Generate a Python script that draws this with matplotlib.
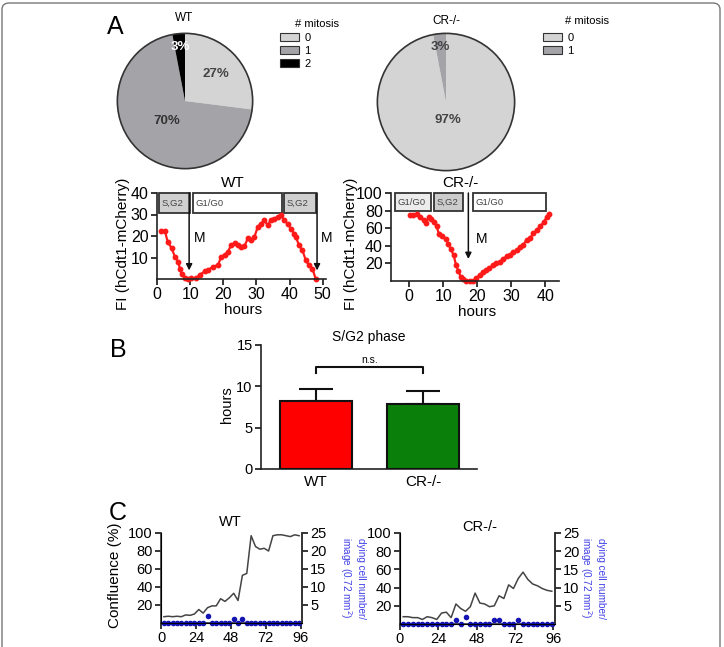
import numpy as np
import matplotlib.pyplot as plt
from matplotlib.patches import Rectangle, Patch, FancyBboxPatch, Circle

plt.rcParams['font.family'] = ['Liberation Sans', 'DejaVu Sans']

W, H = 724, 647

# ---- data ----
mitosis_classes = ['0', '1', '2']
wt_mitosis_pct = [27, 70, 3]
cr_mitosis_pct = [97, 3]
pie_colors = ['#d4d4d4', '#a4a4a8', '#000000']

wt_hours = [1.2, 2.4, 3.2, 4.4, 5.4, 6.4, 6.9, 7.4, 8.4, 9.4, 10.4, 11.9, 12.9, 14.4,
            15.4, 16.9, 18.4, 19.4, 20.4, 21.4, 22.4, 23.4, 24.4, 25.4, 26.4, 27.4,
            28.4, 29.4, 30.4, 31.4, 32.4, 33.4, 34.4, 35.4, 36.4, 37.4, 38.4, 39.4,
            40.4, 41.4, 41.9, 42.9, 43.9, 44.9, 45.9, 46.9, 47.9]
wt_fi = [22.3, 22.3, 17.4, 14.3, 10.4, 8.0, 4.8, 2.5, 0.5, 0.0, 0.3, 0.5, 2.0, 3.5,
         4.2, 5.7, 6.5, 10.4, 11.2, 12.7, 15.8, 16.6, 15.8, 14.7, 15.3, 18.9,
         18.0, 19.6, 24.2, 25.8, 27.3, 25.0, 27.6, 28.1, 28.9, 29.7, 27.3, 25.8,
         23.4, 21.1, 19.5, 15.6, 13.3, 8.7, 6.3, 4.8, 0.0]
wt_phases = ['S,G2', 'G1/G0', 'S,G2']
wt_phase_start = [0.6, 10.8, 38.4]
wt_phase_end = [9.9, 37.8, 48.0]
wt_m_times = [9.7, 48.3]

cr_hours = [0.3, 1.3, 2.3, 3.3, 4.3, 5.0, 5.8, 6.5, 7.3, 8.1, 8.8, 9.8, 10.8, 11.5,
            12.3, 13.1, 13.8, 14.5, 15.1, 15.8, 16.8, 17.8, 18.7, 19.7, 20.7, 21.7,
            22.6, 23.6, 24.6, 25.6, 26.6, 27.6, 28.6, 29.6, 30.6, 31.6, 32.6, 33.5,
            34.5, 35.5, 36.5, 37.5, 38.5, 39.5, 40.5, 41.0]
cr_fi = [75, 75, 76, 73, 69, 66, 73, 71, 67, 62, 53, 51, 48, 42,
         36, 29, 18, 11, 5, 2, 0, 0, 0, 3, 7, 10,
         13, 15, 18, 20, 22, 25, 28, 30, 33, 35, 39, 41,
         47, 49, 54, 58, 62, 67, 73, 76]
cr_phases = ['G1/G0', 'S,G2', 'G1/G0']
cr_phase_start = [-4.1, 7.3, 18.8]
cr_phase_end = [6.5, 15.9, 40.3]
cr_m_times = [17.4]

genotypes = ['WT', 'CR-/-']
sg2_mean = [8.2, 7.9]
sg2_err = [1.5, 1.5]

conf_hours = [2, 5, 8, 11, 14, 17, 20, 23, 26, 29, 32, 35, 38, 41, 44, 47,
              50, 53, 56, 59, 62, 65, 68, 71, 74, 77, 80, 83, 86, 89, 92, 95]
conf_wt = [7, 7.5, 7, 7.5, 7, 9, 8.5, 10, 15, 11, 17, 19, 19, 27, 24, 28,
           33, 25, 53, 55, 97, 85, 82, 83, 80, 97, 98, 98, 97, 96, 98, 97]
conf_cr = [8, 8, 7, 7, 5, 8, 7, 5, 12, 13, 7, 22, 17, 14, 19, 34,
           23, 22, 19, 20, 31, 28, 43, 39, 50, 57, 49, 44, 42, 39, 37, 36]
dying_wt = [0, 0, 0, 0, 0, 0, 0, 0, 0, 0, 2, 0, 0, 0, 0, 0,
            1, 0, 1, 0, 0, 0, 0, 0, 0, 0, 0, 0, 0, 0, 0, 0]
dying_cr = [0, 0, 0, 0, 0, 0, 0, 0, 0, 0, 0, 1, 0, 2, 0, 0,
            0, 0, 0, 1, 1, 0, 0, 0, 1, 0, 0, 0, 0, 0, 0, 0]


def box(l, t, r, b):
    return [l / W, 1 - b / H, (r - l) / W, (b - t) / H]


def ftext(x, y, s, **kw):
    kw.setdefault('ha', 'center')
    kw.setdefault('va', 'center')
    fig.text(x / W, 1 - y / H, s, **kw)


fig = plt.figure(figsize=(W / 100, H / 100), dpi=100)

# outer frame
fig.patches.append(FancyBboxPatch((2 / W, -0.05), 718 / W, 1 - 3 / H + 0.05,
                                  boxstyle='round,pad=0,rounding_size=0.01',
                                  transform=fig.transFigure, fill=False,
                                  ec='#777777', lw=1.0))

# ---- A: pies ----
def draw_pie(ax, pct, label_r, label_col, title_xy, title):
    wedges, _ = ax.pie(pct, colors=pie_colors[:len(pct)], startangle=90,
                       counterclock=False, wedgeprops=dict(linewidth=0))
    ax.add_patch(Circle((0, 0), 1, fill=False, ec='#333333', lw=1.2))
    for w, p, r, c in zip(wedges, pct, label_r, label_col):
        th = np.deg2rad((w.theta1 + w.theta2) / 2)
        ax.text(r * np.cos(th), r * np.sin(th), f'{p}%', ha='center', va='center',
                fontsize=9.5, fontweight='bold', color=c)
    ax.set_xlim(-1.02, 1.02)
    ax.set_ylim(-1.02, 1.02)
    ftext(*title_xy, title, fontsize=8.5)


ax_p1 = fig.add_axes(box(116, 32, 254, 170))
draw_pie(ax_p1, wt_mitosis_pct, [0.6, 0.4, 0.8], ['#444444', '#333333', 'white'],
         (184, 18), 'WT')
ax_p2 = fig.add_axes(box(376, 32, 516, 172))
draw_pie(ax_p2, cr_mitosis_pct, [0.26, 0.8], ['#444444', '#444444'],
         (446, 21), 'CR-/-')


def pie_legend(ax, n, x, y, title_xy):
    handles = [Patch(facecolor=c, edgecolor='#333333', lw=0.8) for c in pie_colors[:n]]
    ax.legend(handles, mitosis_classes[:n], loc='upper left',
              bbox_to_anchor=(x / W, 1 - y / H), bbox_transform=fig.transFigure,
              frameon=False, fontsize=8, handlelength=1.7, handleheight=0.7,
              handletextpad=0.5, labelspacing=0.25, borderpad=0, borderaxespad=0)
    ftext(*title_xy, '# mitosis', fontsize=8, ha='left')


pie_legend(ax_p1, 3, 280, 33, (295, 24))
pie_legend(ax_p2, 2, 543, 33, (565, 21))


# ---- A: time-lapse traces ----
def style_axes(ax, fs):
    for s in ['top', 'right']:
        ax.spines[s].set_visible(False)
    for s in ['left', 'bottom']:
        ax.spines[s].set_linewidth(1.2)
        ax.spines[s].set_color('#222222')
    ax.tick_params(direction='out', length=4, width=1.1, labelsize=fs, pad=2)


def trace(ax, hours, fi, phases, p0, p1, fills, m_times, ytop, ybox, m_end, m_lab):
    ax.plot(hours, fi, '-o', color='#ff1a1a', lw=1.6, ms=3.2, mec='#ff1a1a',
            clip_on=False)
    for name, a, b, fc in zip(phases, p0, p1, fills):
        ax.add_patch(Rectangle((a, ybox), b - a, ytop - ybox, fc=fc, ec='#333333',
                               lw=1.3, clip_on=False))
        ax.text(a + 0.7, (ytop + ybox) / 2, name, fontsize=6.8, color='#444444',
                ha='left', va='center')
    for t in m_times:
        ax.annotate('', xy=(t, m_end), xytext=(t, ytop),
                    arrowprops=dict(arrowstyle='-|>', color='#111111', lw=1.1,
                                    mutation_scale=9, shrinkA=0, shrinkB=0))
        ax.text(t + 1.3, m_lab, 'M', fontsize=10, ha='left', va='center')


ax_t1 = fig.add_axes(box(157, 193, 326, 279))
style_axes(ax_t1, 11.5)
ax_t1.set_xlim(0, 51)
ax_t1.set_ylim(0, 40)
ax_t1.set_xticks([0, 10, 20, 30, 40, 50])
ax_t1.set_yticks([10, 20, 30, 40])
trace(ax_t1, wt_hours, wt_fi, wt_phases, wt_phase_start, wt_phase_end,
      ['#d0d0d0', 'white', '#d0d0d0'], wt_m_times, 40, 30.5, 4, 19)

ax_t2 = fig.add_axes(box(391, 193, 559, 281))
style_axes(ax_t2, 11.5)
ax_t2.set_xlim(-5.3, 44)
ax_t2.set_ylim(0, 100)
ax_t2.set_xticks([0, 10, 20, 30, 40])
ax_t2.set_yticks([20, 40, 60, 80, 100])
trace(ax_t2, cr_hours, cr_fi, cr_phases, cr_phase_start, cr_phase_end,
      ['#ececec', '#cccccc', 'white'], cr_m_times, 100, 79, 25, 48)
ax_t2.texts[-1].set_position((19.5, 48))

ftext(233, 183, 'WT', fontsize=11)
ftext(460, 183, 'CR-/-', fontsize=11)
ftext(243, 310, 'hours', fontsize=11)
ftext(477, 312, 'hours', fontsize=11)
ftext(123, 244, 'FI (hCdt1-mCherry)', fontsize=11, rotation=90)
ftext(351, 244, 'FI (hCdt1-mCherry)', fontsize=11, rotation=90)

# ---- B: bars ----
ax_b = fig.add_axes(box(261, 345, 477, 469))
style_axes(ax_b, 10.5)
xb = np.arange(len(genotypes))
ax_b.bar(xb, sg2_mean, width=0.67, color=['#ff0000', '#0a800a'], edgecolor='#111111',
         lw=1.5, zorder=3)
ax_b.errorbar(xb, sg2_mean, yerr=[[0, 0], sg2_err], fmt='none', ecolor='#111111',
              elinewidth=1.5, capsize=12, capthick=1.5, zorder=2)
ax_b.plot([0, 0, 1, 1], [11.6, 12.3, 12.3, 11.6], color='#111111', lw=1.5)
ax_b.text(0.5, 12.6, 'n.s.', fontsize=7.5, ha='center', va='bottom')
ax_b.set_xlim(-0.512, 1.498)
ax_b.set_ylim(0, 15)
ax_b.set_yticks([0, 5, 10, 15])
ax_b.set_xticks(xb)
ax_b.set_xticklabels(genotypes, fontsize=11)
ax_b.tick_params(axis='x', length=0, pad=4)
ax_b.set_title('S/G2 phase', fontsize=10, pad=3)
ftext(227, 405, 'hours', fontsize=10.5, rotation=90)


# ---- C: confluence ----
def conf_panel(rect, conf, dying, title_xy, title, rlab_x):
    ax = fig.add_axes(rect)
    ax.plot(conf_hours, conf, color='#444444', lw=1.1)
    ax.spines['top'].set_visible(False)
    for s in ['left', 'bottom', 'right']:
        ax.spines[s].set_linewidth(1.2)
        ax.spines[s].set_color('#333333')
    ax.tick_params(direction='out', length=4, width=1.1, labelsize=10.5, pad=2)
    ax.set_xlim(0, 97)
    ax.set_ylim(0, 100)
    ax.set_xticks([0, 24, 48, 72, 96])
    ax.set_yticks([20, 40, 60, 80, 100])
    ax2 = ax.twinx()
    ax2.spines['top'].set_visible(False)
    ax2.spines['right'].set_linewidth(1.2)
    ax2.spines['right'].set_color('#333333')
    ax2.plot(conf_hours, dying, 'o', color='#1414b4', ms=3.0, clip_on=False)
    ax2.set_ylim(0, 25)
    ax2.set_yticks([5, 10, 15, 20, 25])
    ax2.tick_params(direction='out', length=4, width=1.1, labelsize=10.5, pad=2)
    ftext(*title_xy, title, fontsize=10.5)
    ftext(rlab_x, 578, 'dying cell number/\nimage (0.72 mm$^2$)', fontsize=7.2,
          rotation=270, color='#4040e6', linespacing=1.15)
    return ax


conf_panel(box(161, 533, 302, 623), conf_wt, dying_wt, (230, 522), 'WT', 352)
conf_panel(box(400, 533, 555, 624), conf_cr, dying_cr, (480, 527), 'CR-/-', 592)
ftext(115, 575, 'Confluence (%)', fontsize=11, rotation=90)

# panel letters
ftext(115, 27, 'A', fontsize=18)
ftext(118, 350, 'B', fontsize=18)
ftext(118, 513, 'C', fontsize=18)

fig.savefig('out.png', dpi=100)
